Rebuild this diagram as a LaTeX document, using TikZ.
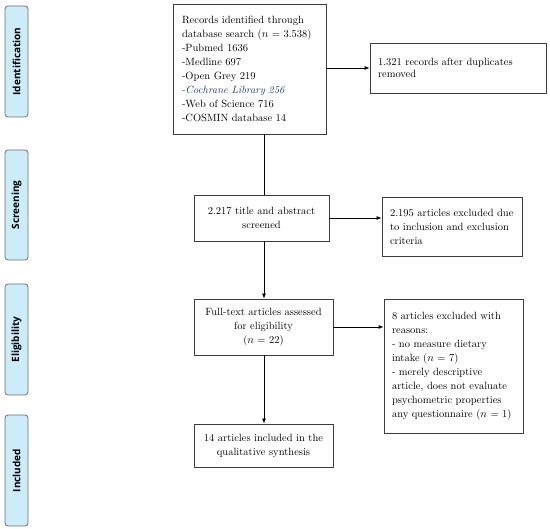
\documentclass[tikz,border=0pt]{standalone}
\usepackage{fontspec}
\newfontfamily\labelfont{Open Sans}
\usetikzlibrary{arrows.meta}
\definecolor{phasefill}{RGB}{204,236,250}
\definecolor{phaseline}{RGB}{110,110,110}
\definecolor{boxline}{RGB}{60,60,60}
\definecolor{cochrane}{RGB}{31,56,100}
\begin{document}
\begin{tikzpicture}[x=1pt,y=-1pt,
 phase/.style={draw=phaseline, fill=phasefill, rounded corners=3pt, inner sep=0pt, line width=0.8pt,
   rotate=90, minimum height=23pt, font=\labelfont\bfseries\fontsize{10}{12}\selectfont},
 box/.style={draw=boxline, line width=0.8pt, inner ysep=0pt, inner xsep=8pt, font=\fontsize{10.5}{14}\selectfont},
 lbox/.style={box, align=left},
 cbox/.style={box, align=center},
 conn/.style={line width=0.8pt, black},
 arr/.style={conn, -{Latex[length=5pt,width=4pt]}}
]
\useasboundingbox (0,0) rectangle (550,529);

% phase labels
\node[phase, minimum width=111pt] (ph1) at (16.5,61.5) {Identification};
\node[phase, minimum width=110pt] (ph2) at (16.5,205) {Screening};
\node[phase, minimum width=111pt] (ph3) at (16.5,339.5) {Eligibility};
\node[phase, minimum width=111pt] (ph4) at (16.5,470.5) {Included};

% boxes
\node[lbox, text width=135pt, inner xsep=9pt, minimum height=130pt] (b1) at (249.5,69)
 {Records identified through\\
  database search ($n$ = 3.538)\\
  -Pubmed 1636\\
  -Medline 697\\
  -Open Grey 219\\
  {\color{cochrane}-\textit{Cochrane Library 256}}\\
  -Web of Science 716\\
  -COSMIN database 14};
\node[lbox, text width=160pt, minimum height=50pt, font=\fontsize{10.5}{12}\selectfont] (dup) at (458,68)
 {1.321 records after duplicates\\removed};
\node[cbox, text width=119pt, minimum height=46pt] (scr) at (261.5,218)
 {2.217 title and abstract\\screened};
\node[lbox, text width=124pt, minimum height=59pt] (ex1) at (452,226.5)
 {2.195 articles excluded due\\to inclusion and exclusion\\criteria};
\node[cbox, text width=123pt, minimum height=56pt] (full) at (263.5,327)
 {Full-text articles assessed\\for eligibility\\($n$ = 22)};
\node[lbox, text width=123pt, minimum height=134pt] (ex2) at (453.5,366)
 {8 articles excluded with\\
  reasons:\\
  - no measure dietary\\
  intake ($n$ = 7)\\
  - merely descriptive\\
  article, does not evaluate\\
  psychometric properties\\
  any questionnaire ($n$ = 1)};
\node[cbox, text width=123pt, minimum height=43pt] (inc) at (263.5,445.5)
 {14 articles included in the\\qualitative synthesis};

% connectors
\coordinate (vx) at (264,0);
\draw[conn] (b1.south -| vx) -- (scr.north -| vx);
\draw[arr] (scr.south -| vx) -- (full.north -| vx);
\draw[arr] (full.south -| vx) -- (inc.north -| vx);
\draw[arr] (b1.east |- dup.west) -- (dup.west);
\draw[arr] (scr.east) -- (scr.east -| ex1.west);
\draw[arr] (full.east) -- (full.east -| ex2.west);
\end{tikzpicture}
\end{document}
